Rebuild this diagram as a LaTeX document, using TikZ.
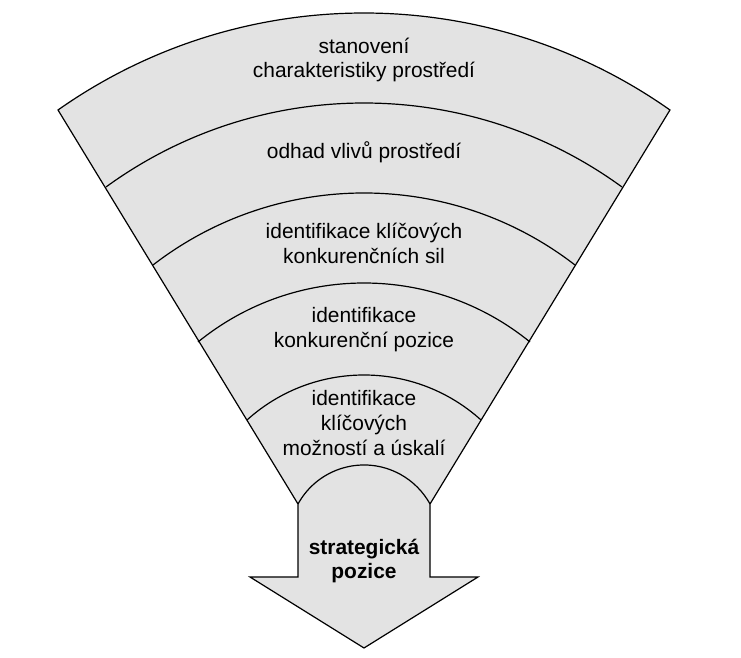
\documentclass[tikz,border=0pt]{standalone}
\usepackage{fontspec}
\setmainfont{Liberation Sans}
\usetikzlibrary{positioning}
\definecolor{fanfill}{gray}{0.89}
\tikzset{band/.style = {draw, line width = 1.2bp, line join = miter}}
\tikzset{bandtext/.style = {align = center, inner sep = 0, font = \fontsize{21}{25}\selectfont}}

\begin{document}
\begin{tikzpicture}[x = 1bp, y = 1bp]
      \fill [white] (0, 0) rectangle (741, 658);
      \useasboundingbox (0, 0) rectangle (741, 658);

      % outer arc: half width 306, rise 97
      \pgfmathsetmacro{\rout}{100*((3.06)^2 + (0.97)^2)/(2*0.97)}
      \pgfmathsetmacro{\aout}{asin(306/\rout)}

      % fan and arrow outline
      \draw [band, fill = fanfill] (364, 10) -- (250, 81) -- (298, 81) -- (298, 154) -- (58, 548)
        arc [start angle = 90 + \aout, end angle = 90 - \aout, radius = \rout bp]
        -- (430, 154) -- (430, 81) -- (478, 81) -- cycle;

      % inner arcs
      \foreach \h/\ye/\yt in {258/471/555, 211/393/465, 166/316/375, 117/238/283, 66/154/193} {
        \pgfmathsetmacro{\s}{\yt - \ye}
        \pgfmathsetmacro{\r}{100*((\h/100)^2 + (\s/100)^2)/(2*\s/100)}
        \pgfmathsetmacro{\a}{asin(\h/\r)}
        \draw [band] (364 - \h, \ye) arc [start angle = 90 + \a, end angle = 90 - \a, radius = \r bp];
      }

      \node [bandtext] (charakter) at (364, 598) {stanovení\\charakteristiky prostředí};
      \node [bandtext] (vlivy) at (364, 506) {odhad vlivů prostředí};
      \node [bandtext] (sily) at (364, 415) {identifikace klíčových\\konkurenčních sil};
      \node [bandtext] (pozice) at (364, 328) {identifikace\\konkurenční pozice};
      \node [bandtext] (uskali) at (364, 235) {identifikace\\klíčových\\možností a úskalí};
      \node [bandtext, font = \fontsize{21}{25}\selectfont\bfseries] (strategie) at (364, 97) {strategická\\pozice};
    \end{tikzpicture}
\end{document}
